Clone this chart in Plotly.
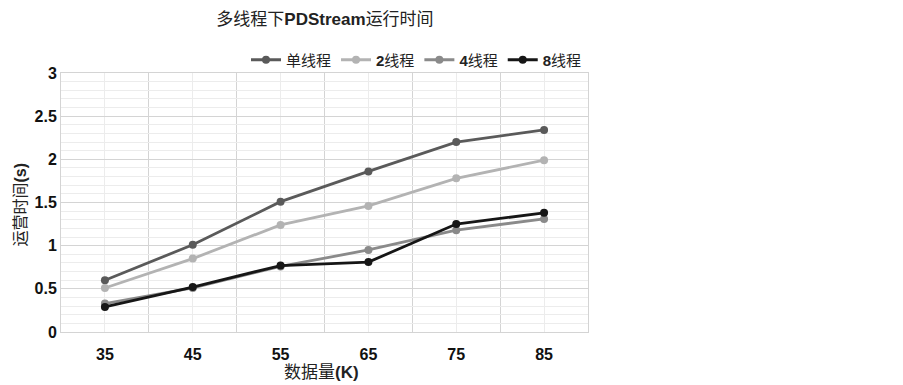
import plotly.graph_objects as go

data_size = [35, 45, 55, 65, 75, 85]
single_thread = [0.60, 1.01, 1.51, 1.86, 2.20, 2.34]
two_threads = [0.51, 0.85, 1.24, 1.46, 1.78, 1.99]
four_threads = [0.33, 0.51, 0.76, 0.95, 1.18, 1.31]
eight_threads = [0.29, 0.52, 0.77, 0.81, 1.25, 1.38]

series_names = ["单线程", "<b>2</b>线程", "<b>4</b>线程", "<b>8</b>线程"]
series_values = [single_thread, two_threads, four_threads, eight_threads]
series_colors = ["#5a5a5a", "#b3b3b3", "#8a8a8a", "#161616"]

tick_font = "Liberation Sans, Arial, sans-serif"
cjk_font = "Liberation Sans, Noto Sans CJK SC, sans-serif"

# page body has an 8px margin, so the figure is 8px smaller than the window
W, H = 895, 377
L, T, PW, PH = 53, 65, 527, 259

fig = go.Figure()
for name, vals, col in zip(series_names, series_values, series_colors):
    fig.add_trace(go.Scatter(
        x=data_size, y=vals, name=name, mode="lines+markers",
        line=dict(color=col, width=2.8),
        marker=dict(color=col, size=8),
    ))

fig.update_layout(
    width=W, height=H,
    paper_bgcolor="white", plot_bgcolor="white",
    margin=dict(l=L, r=W - L - PW, t=T, b=H - T - PH, autoexpand=False),
    title=dict(text="多线程下<b>PDStream</b>运行时间", x=317 / W, xanchor="center",
               y=1 - 11.5 / H, yanchor="middle",
               font=dict(family=cjk_font, size=17, color="#222")),
    showlegend=True,
    legend=dict(orientation="h", xref="container", yref="container",
                x=579 / W, xanchor="right", y=1 - 52 / H, yanchor="middle",
                font=dict(family=cjk_font, size=15, color="#222"),
                itemwidth=30, tracegroupgap=0, bgcolor="rgba(0,0,0,0)"),
    xaxis=dict(
        range=[30, 90], tickmode="array", tickvals=data_size,
        ticktext=[str(v) for v in data_size],
        showgrid=True, gridcolor="#ececec", gridwidth=1,
        minor=dict(tickmode="linear", tick0=30, dtick=10, showgrid=True,
                   gridcolor="#d4d4d4", gridwidth=1, ticks=""),
        showline=True, linecolor="#d4d4d4", mirror=True, zeroline=False,
        ticks="outside", ticklen=8, tickcolor="rgba(0,0,0,0)",
        tickfont=dict(family=tick_font, size=16, color="#111", weight="bold"),
    ),
    yaxis=dict(
        range=[0, 3], tickmode="linear", tick0=0, dtick=0.5,
        showgrid=True, gridcolor="#d4d4d4", gridwidth=1,
        minor=dict(tickmode="linear", tick0=0, dtick=0.1, showgrid=True,
                   gridcolor="#ececec", gridwidth=1, ticks=""),
        showline=True, linecolor="#d4d4d4", mirror=True, zeroline=False,
        ticks="", tickfont=dict(family=tick_font, size=16, color="#111", weight="bold"),
    ),
    annotations=[
        dict(text="数据量<b>(K)</b>", xref="paper", yref="paper",
             x=(313 - L) / PW, y=-(364 - (T + PH)) / PH,
             xanchor="center", yanchor="middle", showarrow=False,
             font=dict(family=cjk_font, size=17, color="#222")),
        dict(text="运营时间<b>(s)</b>", xref="paper", yref="paper",
             x=(11.5 - L) / PW, y=((T + PH) - 197) / PH,
             xanchor="center", yanchor="middle", showarrow=False, textangle=-90,
             font=dict(family=cjk_font, size=16, color="#222")),
    ],
)

fig.write_html("out.html")
